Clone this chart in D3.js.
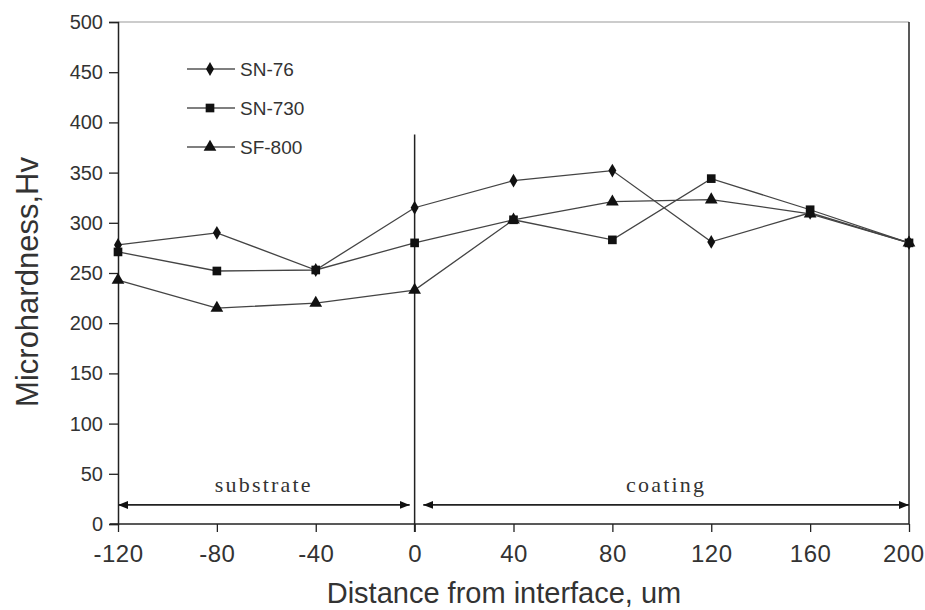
<!DOCTYPE html>
<html>
<head>
<meta charset="utf-8">
<script src="https://cdn.jsdelivr.net/npm/d3@7"></script>
<style>
  body { margin: 0; background: #fff; }
  text { font-family: 'Liberation Sans', Arial, sans-serif; fill: #333; }
  .serif { font-family: 'Liberation Serif', 'Times New Roman', serif; }
</style>
</head>
<body>
<div id="container"></div>
<script>
'use strict';

//Data
const distances = [-120, -80, -40, 0, 40, 80, 120, 160, 200];
const sn76  = [278, 290, 253, 315, 342, 352, 281, 310, 280];
const sn730 = [271, 252, 253, 280, 303, 283, 344, 313, 280];
const sf800 = [243, 215, 220, 233, 303, 321, 323, 309, 280];
const seriesNames = ['SN-76', 'SN-730', 'SF-800'];
const yTicks = [0, 50, 100, 150, 200, 250, 300, 350, 400, 450, 500];
const xTicks = [-120, -80, -40, 0, 40, 80, 120, 160, 200];
const zones = [
    { label: 'substrate', from: -120, to: -2 },
    { label: 'coating', from: 3.5, to: 200 },
];
const zoneLevel = 19;
const interfaceTop = 388;

//Sizing
const VIZ = { WIDTH: 925, HEIGHT: 610 };
const PLOT = { LEFT: 118, RIGHT: 909, TOP: 22, BOTTOM: 524 };

const svg = d3.select('#container')
    .append('svg')
    .attr('width', VIZ.WIDTH)
    .attr('height', VIZ.HEIGHT);

const x = d3.scaleLinear().domain([-120, 200]).range([PLOT.LEFT, PLOT.RIGHT]);
const y = d3.scaleLinear().domain([0, 500]).range([PLOT.BOTTOM, PLOT.TOP]);

//Frame: top and right border
svg.append('line')
    .attr('x1', PLOT.LEFT).attr('x2', PLOT.RIGHT)
    .attr('y1', PLOT.TOP).attr('y2', PLOT.TOP)
    .attr('stroke', '#999').attr('stroke-width', 1.2);
svg.append('line')
    .attr('x1', PLOT.RIGHT).attr('x2', PLOT.RIGHT)
    .attr('y1', PLOT.TOP).attr('y2', PLOT.BOTTOM)
    .attr('stroke', '#222').attr('stroke-width', 1.5);

//Axes
const yAxis = svg.append('g')
    .attr('transform', `translate(${PLOT.LEFT},0)`)
    .call(d3.axisLeft(y).tickValues(yTicks).tickSize(9).tickPadding(6));
const xAxis = svg.append('g')
    .attr('transform', `translate(0,${PLOT.BOTTOM})`)
    .call(d3.axisBottom(x).tickValues(xTicks).tickFormat(d => String(d)).tickSize(8).tickPadding(13));
[yAxis, xAxis].forEach(axis => {
    axis.select('.domain').attr('stroke', '#222').attr('stroke-width', 1.5);
    axis.selectAll('.tick line').attr('stroke', '#222').attr('stroke-width', 1.3);
    axis.selectAll('.tick text')
        .attr('fill', '#333')
        .style('font-family', "'Liberation Sans', Arial, sans-serif");
});
yAxis.selectAll('.tick text').style('font-size', '20px');
xAxis.selectAll('.tick text').style('font-size', '24px').style('letter-spacing', '0.5px');
// last label sits at the window edge; pull it in so it stays readable
xAxis.selectAll('.tick text').filter(d => d === 200)
    .attr('text-anchor', 'end').attr('dx', 15);
xAxis.select('.domain').attr('d', `M${PLOT.LEFT - 8},0H${PLOT.RIGHT}`);

//Interface line
svg.append('line')
    .attr('x1', x(0)).attr('x2', x(0))
    .attr('y1', y(interfaceTop)).attr('y2', PLOT.BOTTOM + 8)
    .attr('stroke', '#222').attr('stroke-width', 1.5);

//Arrow heads
const defs = svg.append('defs');
defs.append('marker')
    .attr('id', 'arrow')
    .attr('viewBox', '0 0 10 10')
    .attr('refX', 10).attr('refY', 5)
    .attr('markerWidth', 10).attr('markerHeight', 10)
    .attr('markerUnits', 'userSpaceOnUse')
    .attr('orient', 'auto-start-reverse')
    .append('path')
    .attr('d', 'M0,1 L10,5 L0,9 Z')
    .attr('fill', '#111');

//Zones
zones.forEach(zone => {
    svg.append('line')
        .attr('x1', x(zone.from)).attr('x2', x(zone.to))
        .attr('y1', y(zoneLevel)).attr('y2', y(zoneLevel))
        .attr('stroke', '#222').attr('stroke-width', 1.6)
        .attr('marker-start', 'url(#arrow)')
        .attr('marker-end', 'url(#arrow)');
    svg.append('text')
        .attr('class', 'serif')
        .attr('x', (x(zone.from) + x(zone.to)) / 2)
        .attr('y', y(zoneLevel) - 13)
        .attr('text-anchor', 'middle')
        .style('font-size', '22px')
        .style('letter-spacing', '2.2px')
        .attr('fill', '#222')
        .text(zone.label);
});

//Series
const seriesData = [sn76, sn730, sf800].map((vals, i) => ({
    name: seriesNames[i],
    shape: [d3.symbolDiamond, d3.symbolSquare, d3.symbolTriangle][i],
    size: [55, 75, 70][i],
    points: distances.map((d, j) => ({ x: d, y: vals[j] })),
}));

const line = d3.line().x(d => x(d.x)).y(d => y(d.y));

const groups = svg.selectAll('.series')
    .data(seriesData)
    .enter().append('g')
    .attr('class', 'series');

groups.append('path')
    .attr('d', d => line(d.points))
    .attr('fill', 'none')
    .attr('stroke', '#444')
    .attr('stroke-width', 1.3);

groups.each(function(s) {
    d3.select(this).selectAll('path.pt')
        .data(s.points)
        .enter().append('path')
        .attr('class', 'pt')
        .attr('transform', d => `translate(${x(d.x)},${y(d.y)})`)
        .attr('d', d3.symbol().type(s.shape).size(s.size))
        .attr('fill', '#111');
});

//Legend
const legend = svg.append('g').attr('transform', 'translate(187,69)');
seriesData.forEach((s, i) => {
    const row = legend.append('g').attr('transform', `translate(0,${i * 39})`);
    row.append('line')
        .attr('x1', 0).attr('x2', 48)
        .attr('stroke', '#555').attr('stroke-width', 1.4);
    row.append('path')
        .attr('transform', 'translate(23,0)')
        .attr('d', d3.symbol().type(s.shape).size(s.size))
        .attr('fill', '#111');
    row.append('text')
        .attr('x', 53).attr('y', 7)
        .style('font-size', '19px')
        .attr('fill', '#444')
        .text(s.name);
});

//Axis titles
svg.append('text')
    .attr('x', 504)
    .attr('y', 603)
    .attr('text-anchor', 'middle')
    .style('font-size', '29px')
    .attr('fill', '#333')
    .text('Distance from interface, um');

svg.append('text')
    .attr('transform', 'translate(38,282) rotate(-90)')
    .attr('text-anchor', 'middle')
    .style('font-size', '31px')
    .attr('fill', '#333')
    .text('Microhardness,Hv');
</script>
</body>
</html>
